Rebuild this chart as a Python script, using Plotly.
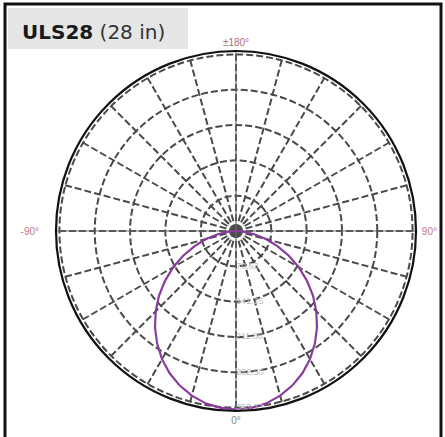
import plotly.graph_objects as go

# Photometric data (candela)
angles = [-90, -85, -80, -75, -70, -65, -60, -55, -50, -45, -40, -35, -30, -25, -20, -15, -10, -5,
          0, 5, 10, 15, 20, 25, 30, 35, 40, 45, 50, 55, 60, 65, 70, 75, 80, 85, 90]
intensity = [0, 15, 37, 62, 88, 116, 145, 173, 201, 227, 252, 275, 296, 314, 329, 341, 350, 355,
             357, 355, 350, 341, 329, 314, 296, 275, 252, 227, 201, 173, 145, 116, 88, 62, 37, 15, 0]

radial_ticks = [70.63, 141.25, 211.88, 282.50, 353.13]
radial_labels = ["70.63", "141.25", "211.88", "282.50", "353.13"]
label_angle = [0, 0, 0, 0, 0]
r_max = 360

angular_ticks = list(range(0, 360, 15))
angular_named = {0: "<span style='color:#8a8a8a'>0°</span>",
                 90: "<span style='color:#c27a82'>&nbsp;90°</span>",
                 180: "<span style='color:#b07070'>±180°</span>",
                 270: "<span style='color:#c27a82'>-90°&nbsp;&nbsp;&nbsp;&nbsp;&nbsp;</span>"}
angular_text = [angular_named.get(a, "") for a in angular_ticks]

axis_angles = [0, 90, 180, 270]

fig = go.Figure()

# solid main axes through the centre
for a in axis_angles:
    fig.add_trace(go.Scatterpolar(r=[0, r_max], theta=[a, a], mode="lines",
                                  line=dict(color="#6a6a6a", width=1.2),
                                  hoverinfo="skip", showlegend=False))

fig.add_trace(go.Scatterpolar(r=intensity, theta=angles, mode="lines",
                              line=dict(color="#8a3c9e", width=2.2),
                              showlegend=False))

# radial scale labels along the 0° direction
fig.add_trace(go.Scatterpolar(r=radial_ticks, theta=label_angle, mode="text",
                              text=radial_labels, textposition="middle right",
                              textfont=dict(family="Liberation Sans", size=9, color="#bdbdbd"),
                              hoverinfo="skip", showlegend=False))

fig.update_layout(
    width=445, height=437,
    margin=dict(l=0, r=0, t=0, b=0),
    paper_bgcolor="white",
    polar=dict(
        domain=dict(x=[56/445, 416/445], y=[26/437, 386/437]),
        bgcolor="white",
        angularaxis=dict(
            rotation=270, direction="counterclockwise",
            tickmode="array", tickvals=angular_ticks, ticktext=angular_text,
            ticks="", showline=True, linecolor="#111111", linewidth=2.2,
            showgrid=True, gridcolor="#4a4a4a", griddash="7px,3px", gridwidth=1.8,
            tickfont=dict(family="Liberation Sans Narrow, Liberation Sans", size=10),
        ),
        radialaxis=dict(
            range=[0, r_max], tickmode="array", tickvals=radial_ticks, ticktext=radial_labels,
            showline=False, ticks="", angle=-90, showticklabels=False,
            showgrid=True, gridcolor="#4a4a4a", griddash="7px,3px", gridwidth=1.8,
        ),
    ),
    shapes=[
        dict(type="rect", xref="paper", yref="paper", x0=5/445, x1=441/445, y0=-0.05, y1=1 - 4/437,
             line=dict(color="#111111", width=3), fillcolor="rgba(0,0,0,0)", layer="above"),
        dict(type="rect", xref="paper", yref="paper", x0=8/445, x1=188/445, y0=1 - 49/437, y1=1 - 8/437,
             line=dict(width=0), fillcolor="#e6e6e6", layer="below"),
    ],
    annotations=[
        dict(xref="paper", yref="paper", x=20/445, y=1 - 32/437, xanchor="left", yanchor="middle",
             text="<b>ULS28</b> <span style='color:#333333'>(28 in)</span>", showarrow=False,
             font=dict(family="DejaVu Sans", size=20, color="#1a1a1a")),
    ],
)

fig.write_html("out.html", config={"displayModeBar": False},
               post_script="document.body.style.margin='0';document.body.style.overflow='hidden';")
